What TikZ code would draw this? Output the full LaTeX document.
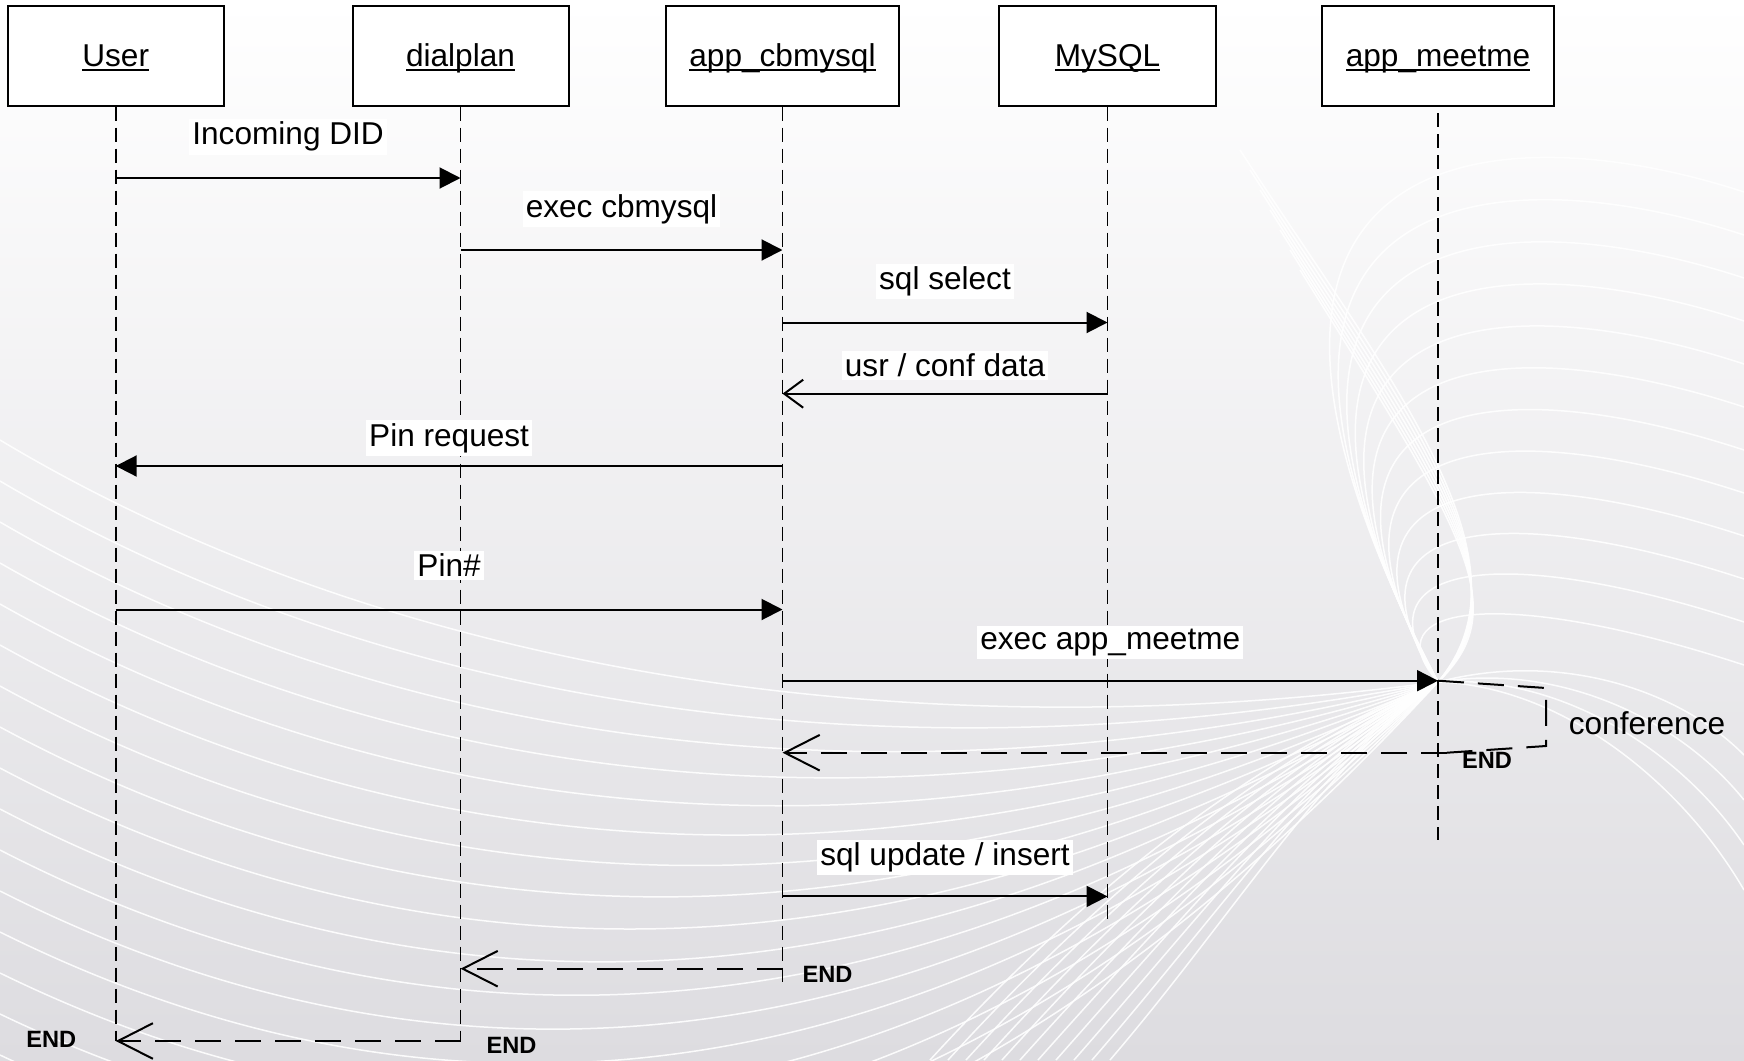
\documentclass[tikz,border=0pt]{standalone}
\usepackage{fontspec}
\setmainfont{Liberation Sans}
\usetikzlibrary{arrows.meta}
\definecolor{bgbot}{RGB}{221,220,224}
\definecolor{bgmid}{RGB}{236,236,238}
\newcommand{\ulbox}[1]{{\setbox0\hbox{#1}\rlap{\vrule height -0.08em depth 0.15em width \wd0}\box0}}
\begin{document}
\begin{tikzpicture}[x=0.5pt,y=-0.5pt,
  actor/.style={draw=black, line width=1pt, fill=white, minimum height=50pt, inner sep=0pt, text height=13pt, text depth=2.6pt, font=\fontsize{15.8}{18}\selectfont},
  lifeline/.style={line width=0.9pt, dash pattern=on 7pt off 3.5pt},
  msg/.style={line width=1pt, -{Triangle[length=10.5pt,width=10.5pt]}},
  smallret/.style={line width=1pt, -{Straight Barb[length=9.5pt,width=14pt,line width=1pt]}},
  reply/.style={line width=1pt, dash pattern=on 13pt off 7pt, -{Straight Barb[length=17.5pt,width=17.8pt,line width=1pt]}},
  loopline/.style={line width=1pt, dash pattern=on 13pt off 7pt},
  lbl/.style={fill=white, inner sep=1.5pt, font=\fontsize{15.8}{18}\selectfont},
  txt/.style={inner sep=0pt, font=\fontsize{15.8}{18}\selectfont},
  endlbl/.style={inner sep=0pt, font=\bfseries\fontsize{11.8}{13}\selectfont},
  bgline/.style={draw=white, line width=0.75pt, opacity=0.9}]
\useasboundingbox (0,0) rectangle (1744,1060);
\shade[top color=white, middle color=bgmid, bottom color=bgbot] (0,0) rectangle (1744,1060);
% background decoration
\begin{scope}
\clip (0,0) rectangle (1744,1060);
\coordinate (pinch) at (1438,682);
% curves from the left edge into the pinch
\foreach \k in {0,...,16}{
  \draw[bgline] (0,{440+41*\k}) .. controls (350,{650+38*\k}) and (850,{760+35*\k}) .. (pinch);
}
% curves from the right edge hooking down into the pinch
\foreach \k in {0,...,11}{
  \draw[bgline] (1744,{192+43*\k}) .. controls (1500,{112+43*\k}) and ({1150+20*\k},{132+43*\k}) .. (pinch);
}
% bulging curves on the right of the funnel
\foreach \k in {0,...,6}{
  \draw[bgline] ({1240+10*\k},{150+20*\k}) .. controls ({1390+12*\k},{380+25*\k}) and ({1540-4*\k},{560+8*\k}) .. (pinch);
}
% curves leaving the pinch to the right edge
\foreach \k in {0,...,3}{
  \draw[bgline] (pinch) .. controls (1560,{650+12*\k}) and (1680,{690+30*\k}) .. (1744,{755+45*\k});
}
% cone down to the bottom
\foreach \k in {0,...,10}{
  \draw[bgline] (pinch) .. controls (1320,{730+4*\k}) and ({1150+8*\k},{820+10*\k}) .. ({930+18*\k},1060);
}
\end{scope}
% participants
\def\xU{115.7}\def\xD{460.5}\def\xC{782.5}\def\xM{1107.5}\def\xA{1438}
\node[actor, minimum width=108pt] (user) at (\xU,55.6) {\ulbox{User}};
\node[actor, minimum width=108pt] (dial) at (\xD,55.6) {\ulbox{dialplan}};
\node[actor, minimum width=116.3pt] (cbm) at (\xC,55.6) {\ulbox{app\_cbmysql}};
\node[actor, minimum width=108.4pt] (mysql) at (\xM,55.6) {\ulbox{MySQL}};
\node[actor, minimum width=115.6pt] (meet) at (\xA,55.6) {\ulbox{app\_meetme}};
% lifeline ends
\coordinate (uEnd) at (\xU,1041);
\coordinate (dEnd) at (\xD,1041);
\coordinate (cEnd) at (\xC,983);
\coordinate (mEnd) at (\xM,925);
\coordinate (aTop) at (\xA,113);
\coordinate (aEnd) at (\xA,840);
\draw[lifeline] (user.south) -- (uEnd);
\draw[lifeline] (dial.south) -- (dEnd);
\draw[lifeline] (cbm.south) -- (cEnd);
\draw[lifeline] (mysql.south) -- (mEnd);
\draw[lifeline] (aTop) -- (aEnd);
% message points
\coordinate (u1) at (\xU,178);   \coordinate (d1) at (\xD,178);
\coordinate (d2) at (\xD,250);   \coordinate (c2) at (\xC,250);
\coordinate (c3) at (\xC,322.5); \coordinate (m3) at (\xM,322.5);
\coordinate (m4) at (\xM,393.7); \coordinate (c4) at (\xC,393.7);
\coordinate (c5) at (\xC,466);   \coordinate (u5) at (\xU,466);
\coordinate (u6) at (\xU,609.5); \coordinate (c6) at (\xC,609.5);
\coordinate (c7) at (\xC,680.7); \coordinate (a7) at (\xA,680.7);
\coordinate (k1) at (1546,688);  \coordinate (k2) at (1546,746);
\coordinate (k3) at (1447,752.7); \coordinate (c8) at (\xC,752.7);
\coordinate (c9) at (\xC,896.4); \coordinate (m9) at (\xM,896.4);
\coordinate (c10) at (\xC,968.7); \coordinate (d10) at (\xD,968.7);
% messages
\draw[msg] (u1) -- node[lbl, yshift=20.6pt]{Incoming DID} (d1);
\draw[msg] (d2) -- node[lbl, yshift=20.4pt]{exec cbmysql} (c2);
\draw[msg] (c3) -- node[lbl, yshift=20.6pt]{sql select} (m3);
\draw[smallret] (m4) -- node[lbl, yshift=14pt]{usr / conf data} (c4);
\draw[msg] (c5) -- node[lbl, yshift=14pt]{Pin request} (u5);
\draw[msg] (u6) -- node[lbl, yshift=22pt]{Pin\#} (c6);
\draw[msg] (c7) -- node[lbl, yshift=19pt]{exec app\_meetme} (a7);
\draw[loopline] (a7) -- (k1) -- (k2) -- (k3);
\draw[reply] (k3) -- (c8);
\draw[msg] (c9) -- node[lbl, yshift=19.4pt]{sql update / insert} (m9);
\draw[reply] (c10) -- (d10);
\draw[reply] (dEnd) -- (uEnd);
% labels
\node[txt] (conf) at (1647,723) {conference};
\node[endlbl] (endA) at (1487,760) {END};
\node[endlbl] (endC) at (827.5,974.3) {END};
\node[endlbl] (endU) at (51.2,1039) {END};
\node[endlbl] (endD) at (511.6,1045.5) {END};
\end{tikzpicture}
\end{document}
